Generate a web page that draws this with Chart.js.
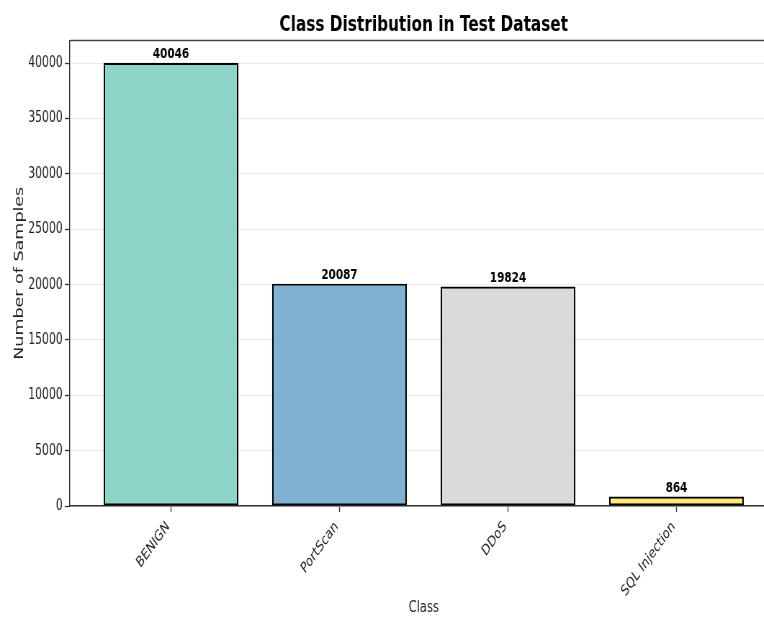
<!DOCTYPE html>
<html>
<head>
<meta charset="utf-8">
<script src="https://cdn.jsdelivr.net/npm/chart.js@4.4.1/dist/chart.umd.min.js"></script>
<style>
  html, body { margin: 0; padding: 0; background: #fff; overflow: hidden; width: 764px; height: 617px; }
  #wrap { width: 1175px; height: 617px; transform: scaleX(0.72); transform-origin: 0 0; }
</style>
</head>
<body>
<div id="wrap"><canvas id="c" width="1175" height="617"></canvas></div>
<script>
// Class counts in the test split
const categories = ['BENIGN', 'PortScan', 'DDoS', 'SQL Injection'];
const counts = [40046, 20087, 19824, 864];
const barColors = ['#8dd3c7', '#80b1d3', '#d9d9d9', '#ffed6f'];
const yTicks = [0, 5000, 10000, 15000, 20000, 25000, 30000, 35000, 40000];

const FONT = '"DejaVu Sans", sans-serif';
const yMax = Math.max(...counts) * 1.05;

// Frame around the plotting area (top edge shows; right edge runs past the page)
const framePlugin = {
  id: 'frame',
  afterDraw(chart) {
    const { ctx, chartArea: a } = chart;
    ctx.save();
    ctx.strokeStyle = '#444';
    ctx.lineWidth = 1.6;
    ctx.beginPath();
    ctx.moveTo(a.left, a.top);
    ctx.lineTo(a.right, a.top);
    ctx.lineTo(a.right, a.bottom);
    ctx.stroke();
    ctx.restore();
  }
};

// Count printed above every bar
const valueLabels = {
  id: 'valueLabels',
  afterDatasetsDraw(chart) {
    const { ctx } = chart;
    const meta = chart.getDatasetMeta(0);
    ctx.save();
    ctx.font = 'bold 14.5px ' + FONT;
    ctx.fillStyle = '#000';
    ctx.textAlign = 'center';
    ctx.textBaseline = 'bottom';
    meta.data.forEach((bar, i) => {
      ctx.fillText(String(counts[i]), bar.x, bar.y - 1);
    });
    ctx.restore();
  }
};

new Chart(document.getElementById('c'), {
  type: 'bar',
  data: {
    datasets: [{
      data: categories.map((c, i) => ({ x: i, y: counts[i] })),
      backgroundColor: barColors,
      borderColor: '#000',
      borderWidth: 2.2,
      borderSkipped: false,
      categoryPercentage: 0.8,
      barPercentage: 1.0
    }]
  },
  options: {
    responsive: false,
    devicePixelRatio: 1,
    animation: false,
    layout: { padding: { left: 0, right: 95, top: 0, bottom: 0 } },
    plugins: {
      legend: { display: false },
      tooltip: { enabled: false },
      title: {
        display: true,
        fullSize: false,
        text: 'Class Distribution in Test Dataset',
        color: '#000',
        font: { family: FONT, size: 21.3, weight: 'bold' },
        padding: { top: 12.5, bottom: 2.5 }
      }
    },
    scales: {
      x: {
        type: 'linear',
        min: -0.6,
        max: 3.6,
        offset: false,
        afterBuildTicks(scale) {
          scale.ticks = categories.map((c, i) => ({ value: i }));
        },
        afterFit(scale) { scale.height = 111; },
        ticks: {
          autoSkip: false,
          minRotation: 45,
          maxRotation: 45,
          padding: 6,
          labelOffset: -4,
          color: '#222',
          font: { family: FONT, size: 15 },
          callback: (v) => categories[v]
        },
        grid: { offset: false, drawOnChartArea: false, drawTicks: true, tickLength: 6, tickColor: '#333', tickWidth: 1.3 },
        border: { display: true, color: '#333', width: 1.4 },
        title: {
          display: true,
          text: 'Class',
          color: '#222',
          font: { family: FONT, size: 16 },
          padding: { top: 0, bottom: 0 }
        }
      },
      y: {
        min: 0,
        max: yMax,
        afterBuildTicks(scale) {
          scale.ticks = yTicks.map(v => ({ value: v }));
        },
        afterFit(scale) { scale.width = 97; },
        ticks: {
          autoSkip: false,
          padding: 3,
          color: '#222',
          font: { family: FONT, size: 15 },
          callback: (v) => String(v)
        },
        grid: { color: '#ebebeb', lineWidth: 1, tickLength: 7, tickColor: '#333', tickWidth: 1.3 },
        border: { display: true, color: '#333', width: 1.4 },
        title: {
          display: true,
          text: 'Number of Samples',
          color: '#222',
          font: { family: FONT, size: 17.5 },
          padding: { top: 17, bottom: 0 }
        }
      }
    }
  },
  plugins: [framePlugin, valueLabels]
});
</script>
</body>
</html>
